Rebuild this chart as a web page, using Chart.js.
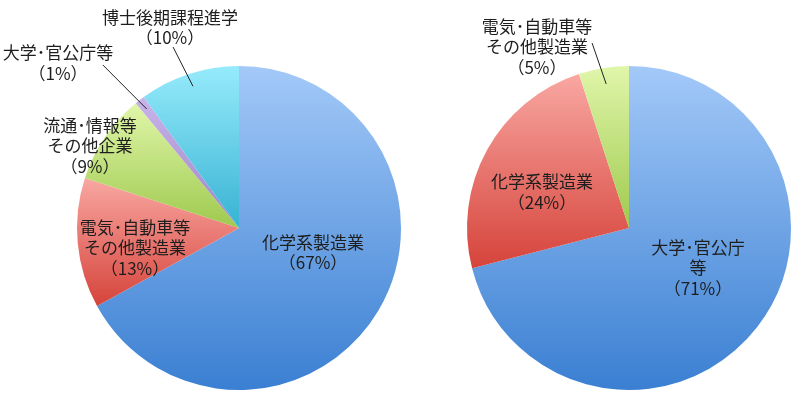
<!DOCTYPE html>
<html>
<head>
<meta charset="utf-8">
<script src="https://cdn.jsdelivr.net/npm/chart.js@4.4.1/dist/chart.umd.min.js"></script>
<style>
  html, body { margin: 0; padding: 0; background: #fff; }
  #wrap { position: relative; width: 800px; height: 404px; }
  #leftBox { position: absolute; left: 0; top: 0; width: 420px; height: 404px; }
  #rightBox { position: absolute; left: 420px; top: 0; width: 380px; height: 404px; }
</style>
</head>
<body>
<div id="wrap">
  <div id="leftBox"><canvas id="leftPie"></canvas></div>
  <div id="rightBox"><canvas id="rightPie"></canvas></div>
</div>
<script>
// left pie: 博士前期課程 (進路)
const leftCategories = [
  "化学系製造業",
  "電気・自動車等その他製造業",
  "流通・情報等その他企業",
  "大学・官公庁等",
  "博士後期課程進学",
];
const leftValues = [67, 13, 9, 1, 10];
const leftTextLines = [
  ["化学系製造業"],
  ["電気･自動車等", "その他製造業"],
  ["流通･情報等", "その他企業"],
  ["大学･官公庁等"],
  ["博士後期課程進学"],
];

// right pie
const rightCategories = ["大学・官公庁等", "化学系製造業", "電気・自動車等その他製造業"];
const rightValues = [71, 24, 5];
const rightTextLines = [
  ["大学･官公庁", "等"],
  ["化学系製造業"],
  ["電気･自動車等", "その他製造業"],
];

// top / bottom colours of each slice gradient
const palette = {
  blue: ["#a3c9f8", "#3a7fd2"],
  red: ["#f9a7a2", "#d5433a"],
  green: ["#e0f6aa", "#9ec94d"],
  purple: ["#c9b4ea", "#9c84c6"],
  cyan: ["#96ebfb", "#37b2d3"],
};
const leftColors = [palette.blue, palette.red, palette.green, palette.purple, palette.cyan];
const rightColors = [palette.blue, palette.red, palette.green];

// label placement, in units of the pie radius from the centre
const leftLabelPos = [
  [0.457, 0.15],
  [-0.642, 0.123],
  [-0.92, -0.506],
  [-1.117, -1.019],
  [-0.426, -1.238],
];
// leader lines: [slice index, text end (radius units), radius fraction on slice]
const leftLeaders = [
  [3, [-0.84, -1.006], 0.93],
  [4, [-0.407, -1.117], 0.92],
];
const rightLabelPos = [
  [0.426, 0.247],
  [-0.537, -0.222],
  [-0.568, -1.117],
];
const rightLeaders = [[2, [-0.228, -1.142], 0.9]];

function sliceGradient(ctx, values, colors) {
  const chart = ctx.chart;
  const a = chart.chartArea;
  const c = colors[ctx.dataIndex];
  if (!a) return c[1];
  const cx = (a.left + a.right) / 2;
  const cy = (a.top + a.bottom) / 2;
  const r = Math.min(a.right - a.left, a.bottom - a.top) / 2;
  const total = values.reduce((s, v) => s + v, 0);
  let before = 0;
  for (let i = 0; i < ctx.dataIndex; i++) before += values[i];
  const s = -Math.PI / 2 + (before / total) * Math.PI * 2;
  const e = s + (values[ctx.dataIndex] / total) * Math.PI * 2;
  const ys = [cy, cy + r * Math.sin(s), cy + r * Math.sin(e)];
  if (s <= Math.PI / 2 && e >= Math.PI / 2) ys.push(cy + r);
  if (s <= -Math.PI / 2 + 1e-6 || e >= (3 * Math.PI) / 2) ys.push(cy - r);
  const top = Math.min(...ys);
  const bottom = Math.max(...ys);
  const g = chart.ctx.createLinearGradient(0, top, 0, bottom + 1);
  g.addColorStop(0, c[0]);
  g.addColorStop(1, c[1]);
  return g;
}

const pieLabels = {
  id: "pieLabels",
  afterDatasetsDraw(chart, args, opts) {
    const ctx = chart.ctx;
    const arcs = chart.getDatasetMeta(0).data;
    const values = chart.data.datasets[0].data;
    ctx.save();
    ctx.font = '17px "Noto Sans CJK JP", sans-serif';
    ctx.fillStyle = "#1e1e1e";
    ctx.textAlign = "center";
    ctx.textBaseline = "middle";
    const lh = 20.5;
    arcs.forEach((arc, i) => {
      const R = arc.outerRadius;
      const pos = opts.positions[i];
      const lines = opts.lines[i].concat(["（" + values[i] + "%）"]);
      const x = arc.x + pos[0] * R;
      const y0 = arc.y + pos[1] * R - ((lines.length - 1) * lh) / 2;
      lines.forEach((t, k) => ctx.fillText(t, x, y0 + k * lh));
    });
    ctx.strokeStyle = "#222";
    ctx.lineWidth = 1;
    opts.leaders.forEach(([i, from, frac]) => {
      const arc = arcs[i];
      const R = arc.outerRadius;
      const mid = (arc.startAngle + arc.endAngle) / 2;
      ctx.beginPath();
      ctx.moveTo(arc.x + from[0] * R, arc.y + from[1] * R);
      ctx.lineTo(arc.x + Math.cos(mid) * R * frac, arc.y + Math.sin(mid) * R * frac);
      ctx.stroke();
    });
    ctx.restore();
  },
};

function makePie(id, categories, values, colors, lines, positions, leaders, padding) {
  return new Chart(document.getElementById(id), {
    type: "pie",
    data: {
      labels: categories,
      datasets: [
        {
          data: values,
          backgroundColor: (ctx) => sliceGradient(ctx, values, colors),
          borderWidth: 0,
        },
      ],
    },
    options: {
      responsive: true,
      maintainAspectRatio: false,
      animation: false,
      layout: { padding: padding },
      plugins: {
        legend: { display: false },
        tooltip: { enabled: false },
        pieLabels: { lines: lines, positions: positions, leaders: leaders },
      },
    },
    plugins: [pieLabels],
  });
}

makePie("leftPie", leftCategories, leftValues, leftColors, leftTextLines, leftLabelPos, leftLeaders,
  { left: 77, right: 19, top: 66, bottom: 14 });
makePie("rightPie", rightCategories, rightValues, rightColors, rightTextLines, rightLabelPos, rightLeaders,
  { left: 47, right: 9, top: 66, bottom: 14 });
</script>
</body>
</html>
